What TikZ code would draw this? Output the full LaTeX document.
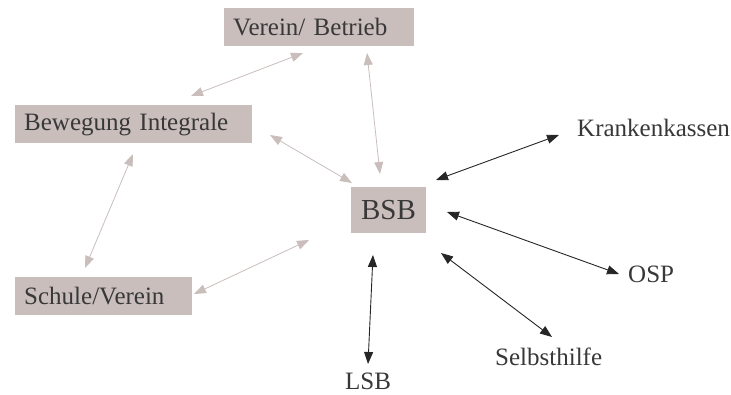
\documentclass[tikz,border=0pt]{standalone}
\usepackage{fontspec}
\setmainfont{Liberation Serif}
\usetikzlibrary{arrows.meta}
\definecolor{boxfill}{HTML}{C9BEBC}
\definecolor{txt}{HTML}{383838}
\definecolor{greyline}{HTML}{C9BEBC}
\definecolor{darkline}{HTML}{262626}
\begin{document}
\begin{tikzpicture}[x=1pt,y=-1pt,
  box/.style={fill=boxfill, text=txt, font=\fontsize{25}{27}\selectfont, inner xsep=9pt, inner ysep=0pt, minimum height=38pt, align=left, anchor=north west},
  lbl/.style={text=txt, font=\fontsize{25}{27}\selectfont, inner sep=0pt, anchor=base west},
  garrow/.style={draw=greyline, line width=0.8pt, {Triangle[length=12pt,width=9pt]}-{Triangle[length=12pt,width=9pt]}},
  barrow/.style={draw=darkline, line width=0.9pt, {Triangle[length=12pt,width=9pt]}-{Triangle[length=12pt,width=9pt]}}]
\useasboundingbox (0,0) rectangle (731,395);

% boxes
\node[box, text width=172pt] (vb) at (224,7.5) {Verein/ Betrieb};
\node[box, text width=219pt] (bi) at (15,105) {Bewegung Integrale};
\node[box, text width=159pt] (sv) at (15,277) {Schule/Verein};
\node[box, anchor=center, align=center, inner xsep=0pt, minimum width=75pt, minimum height=46pt, font=\fontsize{29}{31}\selectfont] (bsb) at (388.5,210) {BSB};

% plain labels
\node[lbl] (kk) at (577,137) {Krankenkassen};
\node[lbl] (osp) at (628,283) {OSP};
\node[lbl] (sh) at (495,366) {Selbsthilfe};
\node[lbl] (lsb) at (345,389) {LSB};

% connector end points
\coordinate (vb-bi-a) at (303,53);
\coordinate (vb-bi-b) at (191,96);
\coordinate (vb-bsb-a) at (367,53);
\coordinate (vb-bsb-b) at (380,174);
\coordinate (bi-bsb-a) at (270,135);
\coordinate (bi-bsb-b) at (352,183);
\coordinate (bi-sv-a) at (133,154);
\coordinate (bi-sv-b) at (85,268);
\coordinate (sv-bsb-a) at (194,294);
\coordinate (sv-bsb-b) at (309,240);
\coordinate (bsb-kk-a) at (436,180);
\coordinate (bsb-kk-b) at (559,135);
\coordinate (bsb-osp-a) at (447,212);
\coordinate (bsb-osp-b) at (619,274);
\coordinate (bsb-sh-a) at (441,253);
\coordinate (bsb-sh-b) at (552,337);
\coordinate (bsb-lsb-a) at (373,255);
\coordinate (bsb-lsb-b) at (368,364);

% grey connectors
\draw[garrow] (vb-bi-b) -- (vb-bi-a);
\draw[garrow] (vb-bsb-a) -- (vb-bsb-b);
\draw[garrow] (bi-bsb-a) -- (bi-bsb-b);
\draw[garrow] (bi-sv-a) -- (bi-sv-b);
\draw[garrow] (sv-bsb-a) -- (sv-bsb-b);

% dark connectors
\draw[barrow] (bsb-kk-a) -- (bsb-kk-b);
\draw[barrow] (bsb-osp-a) -- (bsb-osp-b);
\draw[barrow] (bsb-sh-a) -- (bsb-sh-b);
\draw[barrow] (bsb-lsb-a) -- (bsb-lsb-b);
\end{tikzpicture}
\end{document}
